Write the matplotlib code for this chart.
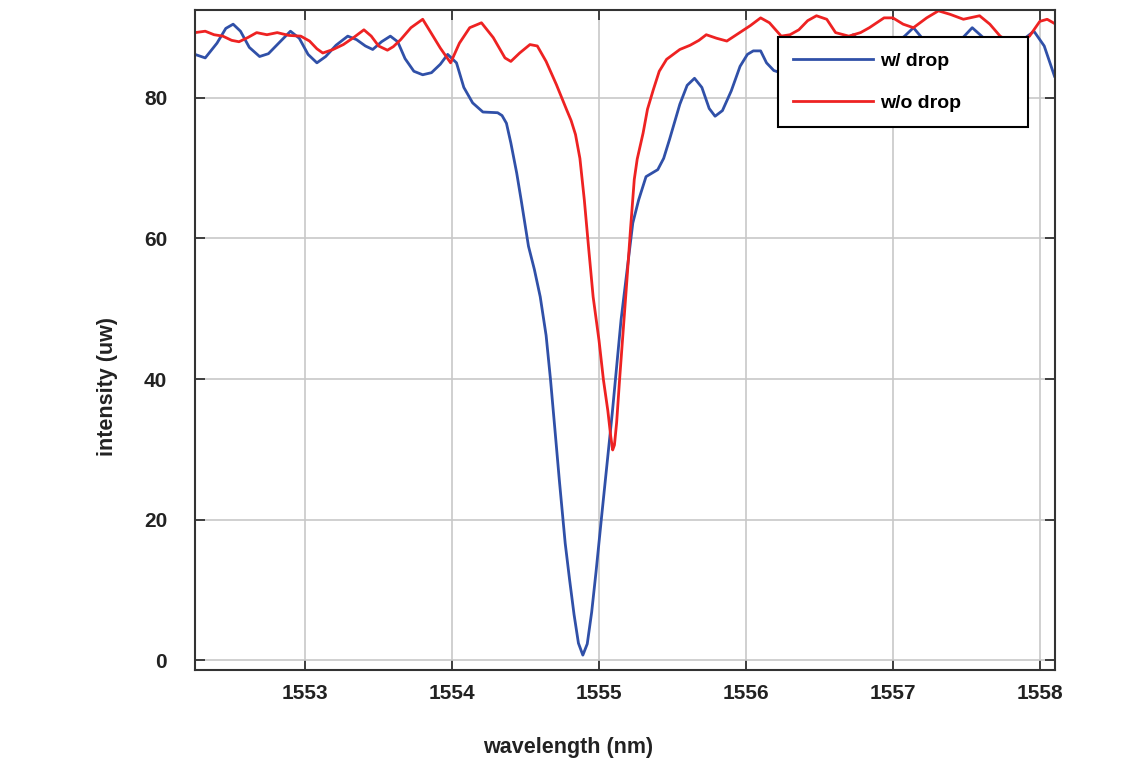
import numpy as np
import matplotlib
matplotlib.use("Agg")
import matplotlib.pyplot as plt

# spectrum w/ drop (blue)
wl_drop = [1552.25, 1552.32, 1552.40, 1552.46, 1552.51, 1552.56, 1552.62, 1552.69, 1552.75, 1552.82,
           1552.90, 1552.96, 1553.02, 1553.08, 1553.14, 1553.21, 1553.29, 1553.35, 1553.41, 1553.46,
           1553.52, 1553.58, 1553.63, 1553.68, 1553.74, 1553.80, 1553.86, 1553.92, 1553.97, 1554.03,
           1554.08, 1554.14, 1554.21, 1554.31, 1554.34, 1554.37, 1554.40, 1554.44, 1554.47, 1554.52,
           1554.56, 1554.60, 1554.64, 1554.67, 1554.70, 1554.73, 1554.77, 1554.80, 1554.83, 1554.86,
           1554.89, 1554.92, 1554.95, 1554.98, 1555.02, 1555.09, 1555.15, 1555.23, 1555.27, 1555.32,
           1555.36, 1555.40, 1555.44, 1555.48, 1555.55, 1555.60, 1555.65, 1555.70, 1555.75, 1555.79,
           1555.84, 1555.90, 1555.96, 1556.01, 1556.05, 1556.10, 1556.14, 1556.19, 1556.25, 1556.35,
           1556.50, 1556.62, 1556.68, 1556.73, 1556.78, 1556.85, 1557.00, 1557.08, 1557.14, 1557.20,
           1557.30, 1557.45, 1557.54, 1557.62, 1557.75, 1557.88, 1557.96, 1558.03, 1558.10]
int_drop = [86.2, 85.7, 87.8, 89.9, 90.5, 89.5, 87.2, 85.9, 86.3, 87.8,
            89.5, 88.5, 86.2, 85.0, 85.9, 87.5, 88.8, 88.3, 87.4, 86.9,
            88.0, 88.8, 88.0, 85.6, 83.8, 83.3, 83.6, 84.8, 86.2, 85.0,
            81.5, 79.3, 78.0, 77.9, 77.5, 76.4, 73.6, 69.3, 65.5, 58.9,
            55.6, 51.7, 46.2, 39.9, 32.8, 25.6, 16.6, 11.4, 6.5, 2.4,
            0.7, 2.3, 6.8, 12.6, 20.9, 35.1, 48.4, 62.2, 65.5, 68.8,
            69.3, 69.8, 71.4, 74.1, 79.1, 81.8, 82.8, 81.5, 78.5, 77.4,
            78.2, 81.0, 84.5, 86.2, 86.7, 86.7, 85.0, 83.9, 83.5, 84.5,
            86.5, 87.5, 88.3, 89.0, 88.0, 86.5, 87.5, 88.8, 90.0, 88.5,
            86.5, 88.0, 90.0, 88.5, 86.5, 88.2, 89.5, 87.4, 83.1]

# spectrum w/o drop (red)
wl_nodrop = [1552.25, 1552.32, 1552.38, 1552.44, 1552.50, 1552.55, 1552.61, 1552.67, 1552.74, 1552.81,
             1552.89, 1552.97, 1553.03, 1553.08, 1553.12, 1553.19, 1553.26, 1553.33, 1553.40, 1553.45,
             1553.50, 1553.56, 1553.60, 1553.65, 1553.72, 1553.80, 1553.85, 1553.92, 1553.99, 1554.05,
             1554.12, 1554.20, 1554.28, 1554.36, 1554.40, 1554.46, 1554.53, 1554.58, 1554.64, 1554.71,
             1554.78, 1554.81, 1554.84, 1554.87, 1554.90, 1554.93, 1554.96, 1555.00, 1555.03, 1555.06,
             1555.08, 1555.093, 1555.105, 1555.12, 1555.14, 1555.165, 1555.19, 1555.215, 1555.24, 1555.26,
             1555.30, 1555.33, 1555.37, 1555.41, 1555.46, 1555.55, 1555.62, 1555.68, 1555.73, 1555.80,
             1555.87, 1555.95, 1556.03, 1556.10, 1556.16, 1556.24, 1556.30, 1556.36, 1556.42, 1556.48,
             1556.55, 1556.61, 1556.70, 1556.78, 1556.84, 1556.94, 1557.00, 1557.07, 1557.14, 1557.23,
             1557.31, 1557.39, 1557.48, 1557.59, 1557.66, 1557.73, 1557.83, 1557.93, 1558.00, 1558.05,
             1558.10]
int_nodrop = [89.3, 89.5, 89.0, 88.8, 88.2, 88.0, 88.6, 89.3, 89.0, 89.3,
              88.9, 88.8, 88.1, 87.0, 86.4, 86.9, 87.6, 88.6, 89.7, 88.8,
              87.4, 86.8, 87.3, 88.3, 90.0, 91.2, 89.5, 87.1, 85.0, 87.8,
              90.0, 90.7, 88.6, 85.7, 85.2, 86.4, 87.6, 87.4, 85.2, 81.9,
              78.3, 76.8, 74.8, 71.4, 65.5, 58.5, 51.7, 45.5, 39.9, 35.5,
              31.8, 29.9, 30.6, 33.8, 39.9, 47.0, 54.1, 61.5, 68.4, 71.3,
              75.0, 78.4, 81.2, 83.8, 85.5, 86.9, 87.5, 88.2, 89.0, 88.5,
              88.1, 89.2, 90.3, 91.4, 90.7, 88.8, 89.0, 89.7, 91.0, 91.7,
              91.2, 89.3, 88.8, 89.3, 90.0, 91.4, 91.4, 90.5, 90.0, 91.4,
              92.4, 91.9, 91.2, 91.7, 90.5, 88.8, 87.5, 88.8, 90.9, 91.2,
              90.6]

x_ticks = [1553, 1554, 1555, 1556, 1557, 1558]
y_ticks = [0, 20, 40, 60, 80]

plt.rcParams['font.family'] = ['Liberation Sans', 'DejaVu Sans']
plt.rcParams['font.weight'] = 'bold'

fig = plt.figure(figsize=(11.4, 7.62), dpi=100)
ax = fig.add_axes([0.171, 0.1207, 0.754, 0.866])

ax.plot(wl_drop, int_drop, color='#3050a8', lw=2.0, label='w/ drop')
ax.plot(wl_nodrop, int_nodrop, color='#ee2222', lw=2.0, label='w/o drop')

ax.set_xlim(1552.25, 1558.1)
ax.set_ylim(-1.42, 92.5)
ax.set_xticks(x_ticks)
ax.set_yticks(y_ticks)
ax.grid(True, color='#c8c8c8', lw=1.2)
ax.set_axisbelow(True)

for s in ax.spines.values():
    s.set_color('#333333')
    s.set_linewidth(1.5)

ax.tick_params(direction='in', length=7, width=1.3, color='#333333',
               top=True, right=True, labelsize=15, labelcolor='#222222')
ax.tick_params(axis='x', pad=10)
ax.tick_params(axis='y', pad=20)

ax.set_xlabel('wavelength (nm)', fontsize=15.5, fontweight='bold', color='#222222')
ax.set_ylabel('intensity (uw)', fontsize=15.5, fontweight='bold', color='#222222')
ax.xaxis.set_label_coords(0.434, -0.102)
ax.yaxis.set_label_coords(-0.089, 0.43)

leg = ax.legend(loc='upper left', bbox_to_anchor=(0.678, 0.814, 0.291, 0.145), mode='expand',
                borderaxespad=0, fancybox=False, framealpha=1, edgecolor='black',
                prop={'size': 14, 'weight': 'bold'}, handlelength=4.1, handletextpad=0.4,
                labelspacing=1.27, borderpad=0.78)
leg.get_frame().set_linewidth(1.5)

fig.savefig('out.png', dpi=100)
